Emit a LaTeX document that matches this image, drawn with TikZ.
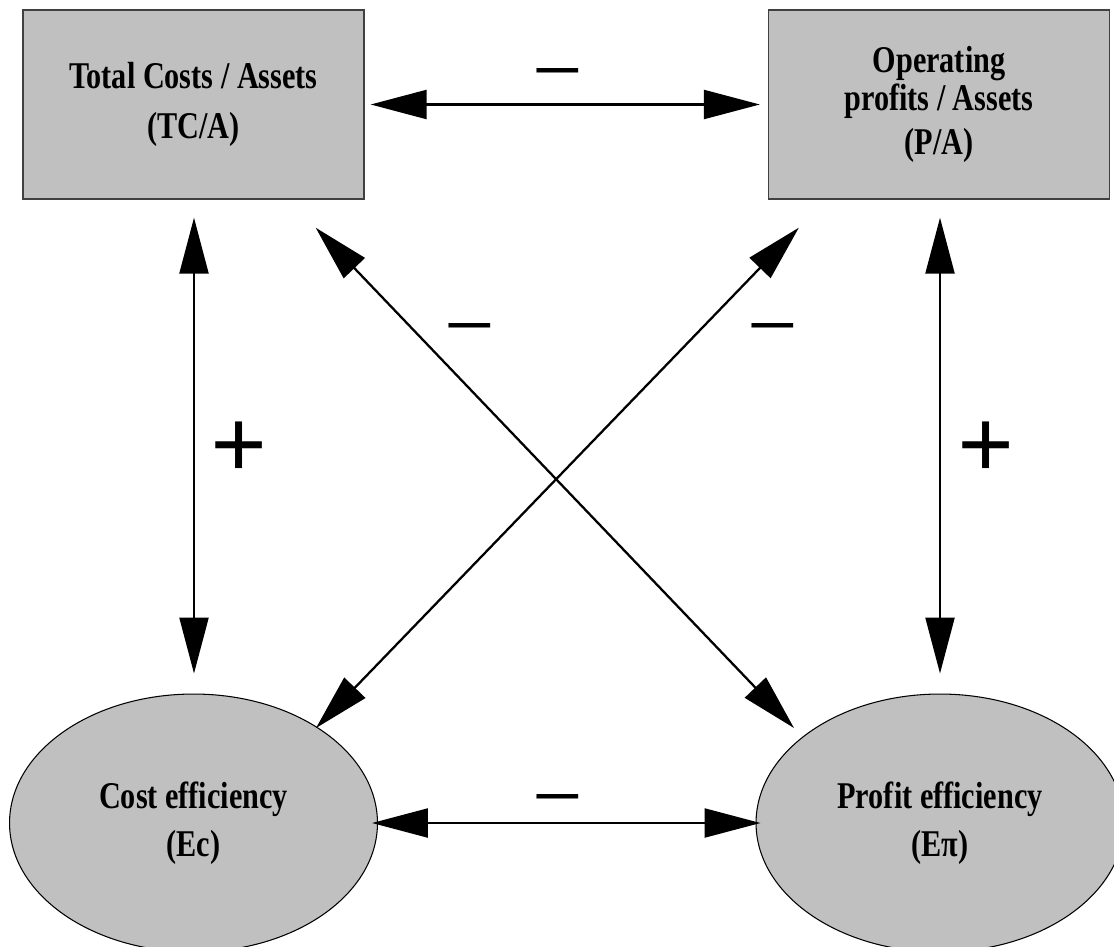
\documentclass[tikz,border=0pt]{standalone}
\usepackage{fontspec}
\usepackage{xcolor}
\usetikzlibrary{shapes.geometric,arrows.meta,positioning,calc}
\setmainfont{Liberation Serif}
\newfontfamily\lblfont[FakeStretch=0.8]{Liberation Serif}
\definecolor{boxgray}{RGB}{192,192,192}
\definecolor{edgegray}{RGB}{64,64,64}
\tikzset{
    % Ratio boxes and efficiency ellipses
    ratiobox/.style={
        rectangle, draw=edgegray, line width=0.8pt, fill=boxgray,
        minimum width=6.82cm, minimum height=3.78cm,
        align=center, inner sep=0pt,
        font=\lblfont\bfseries\fontsize{21.5}{21.5}\selectfont
    },
    effnode/.style={
        ellipse, draw=black, line width=0.6pt, fill=boxgray,
        minimum width=7.36cm, minimum height=5.16cm,
        align=center, inner sep=0pt,
        font=\lblfont\bfseries\fontsize{21.5}{21.5}\selectfont
    },
    % Connectors and their signs
    link/.style={
        line width=1.3pt,
        {Triangle[length=1.12cm,width=0.58cm]}-{Triangle[length=1.12cm,width=0.58cm]}
    },
    minussign/.style={inner sep=0pt, font=\fontsize{51}{51}\selectfont},
    plussign/.style={inner sep=0pt, font=\bfseries\fontsize{57}{57}\selectfont}
}
\begin{document}
\begin{tikzpicture}[x=0.02cm,y=-0.02cm]
\useasboundingbox (0,0) rectangle (1114,946);

% Ratio boxes
\node[ratiobox] (tca) at (193.5,104.5) {Total Costs / Assets\\[6.5pt](TC/A)};
\node[ratiobox] (pa) at (939,104.5) {Operating\\profits / Assets\\[4pt](P/A)};

% Efficiency ellipses
\node[effnode] (ec) at (193.5,823) {Cost efficiency\\[6pt](Ec)};
\node[effnode] (ep) at (940,823) {Profit efficiency\\[6pt](Eπ)};

% Links
\draw[link, shorten <=0.12cm, shorten >=0.16cm] (tca.east) -- (pa.west);
\draw[link, shorten <=-0.12cm, shorten >=-0.1cm] (ec.east) -- (ep.west);
\draw[link, shorten <=0.36cm, shorten >=0.4cm] ([xshift=0.01cm]tca.south) -- ([xshift=0.01cm]ec.north);
\draw[link, shorten <=0.36cm, shorten >=0.4cm] ([xshift=0.02cm]pa.south) -- (ep.north);
\draw[link] ($(tca.south east)+(-49,28)$) -- ($(ep.center)+(-146,-95)$);
\draw[link] ($(pa.south west)+(31,28)$) -- ($(ec.center)+(122.5,-95)$);

% Signs
\node[minussign] (s1) at (558,85) {−};
\node[minussign] (s2) at (470,340) {−};
\node[minussign] (s3) at (773,340) {−};
\node[minussign] (s4) at (558,810) {−};
\node[plussign] (s5) at (239,450) {+};
\node[plussign] (s6) at (986,450) {+};

\end{tikzpicture}
\end{document}
